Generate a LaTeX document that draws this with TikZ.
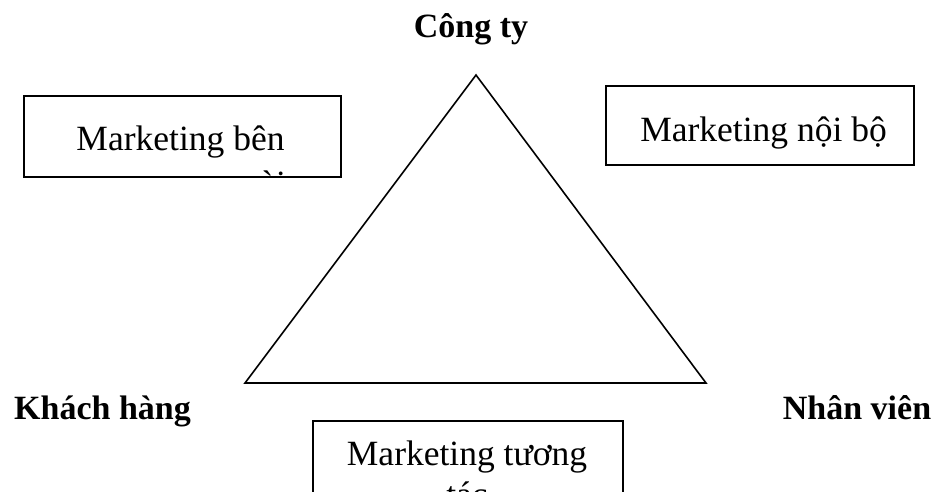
\documentclass[tikz,border=0pt]{standalone}
\usepackage{fontspec}
\setmainfont{Liberation Serif}
\begin{document}
\begin{tikzpicture}[x=1pt,y=-1pt,
  lbl/.style={font=\fontsize{34}{40}\selectfont\bfseries, inner sep=0pt, anchor=base},
  boxtxt/.style={font=\fontsize{35.5}{41}\selectfont, inner sep=0pt, anchor=base},
  frame/.style={draw, line width=1.6pt, inner sep=0pt, anchor=north west},
  tri/.style={draw, line width=1.6pt, line join=miter}]
\useasboundingbox (0,0) rectangle (937,491);
% triangle
\coordinate (top) at (476,75);
\coordinate (bl) at (245,383);
\coordinate (br) at (706,383);
\draw[tri] (top) -- (bl) -- (br) -- cycle;
% corner labels
\node[lbl] (cty) at (471,37) {Công ty};
\node[lbl] (kh) at (102.5,419) {Khách hàng};
\node[lbl] (nv) at (857,419) {Nhân viên};
% boxes
\node[frame, minimum width=317pt, minimum height=81pt] (mb) at (23,95) {};
\node[frame, minimum width=308pt, minimum height=79pt] (mn) at (605,85) {};
\node[frame, minimum width=310pt, minimum height=120pt] (mt) at (312,420) {};
% box texts, clipped to their frames
\begin{scope}
  \clip (mb.south west) rectangle ([yshift=-0.8pt]mb.north east);
  \node[boxtxt] (mb1) at (180.5,150) {Marketing bên};
\end{scope}
\begin{scope}
  \clip ([yshift=1pt]mb.south west) rectangle (mb.north east);
  \node[boxtxt] (mb2) at (246.5,195) {ngoài};
\end{scope}
\node[boxtxt] (mn1) at (763.5,141) {Marketing nội bộ};
\begin{scope}
  \clip (mt.south west) rectangle (mt.north east);
  \node[boxtxt] (mt1) at (467,465) {Marketing tương};
  \node[boxtxt] (mt2) at (467,506) {tác};
\end{scope}
\end{tikzpicture}
\end{document}
